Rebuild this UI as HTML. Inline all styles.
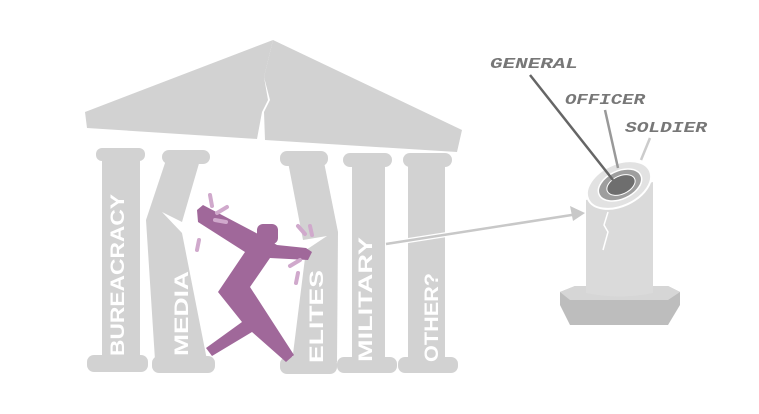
<!DOCTYPE html>
<html><head><meta charset="utf-8"><style>
html,body{margin:0;padding:0;background:#fff;width:759px;height:414px;overflow:hidden}
svg{display:block}
.t{font-family:"Liberation Sans",sans-serif;font-weight:bold;fill:#fff}
.l{font-family:"Liberation Mono",monospace;font-weight:bold;fill:#777;font-size:15px;font-style:italic}
</style></head><body>
<svg width="759" height="414" viewBox="0 0 759 414">
<g fill="#d2d2d2">
<polygon points="273,40 85,112 87,128 257,139 262,112 268,100 264,77"/>
<polygon points="273,40 264,77 270,100 264,112 265,140 457,152 462,130"/>
<rect x="96" y="148" width="49" height="13" rx="6"/>
<rect x="102" y="155" width="38" height="205"/>
<rect x="87" y="355" width="61" height="17" rx="7"/>
<rect x="162" y="150" width="48" height="14" rx="7"/>
<polygon points="166,160 200,160 182,222 162,212 182,233 207,360 155,360 146,220"/>
<rect x="152" y="356" width="63" height="17" rx="7"/>
<rect x="280" y="151" width="48" height="15" rx="7"/>
<polygon points="288,162 324,162 338,232 337,362 292,362 306,250 327,236 303,240"/>
<rect x="280" y="357" width="57" height="17" rx="7"/>
<rect x="343" y="153" width="49" height="14" rx="7"/>
<rect x="352" y="160" width="33" height="200"/>
<rect x="337" y="357" width="60" height="16" rx="7"/>
<rect x="403" y="153" width="49" height="14" rx="7"/>
<rect x="408" y="160" width="37" height="200"/>
<rect x="398" y="357" width="60" height="16" rx="7"/>
</g>
<text class="t" font-size="19" textLength="162" lengthAdjust="spacingAndGlyphs" transform="translate(124,356) rotate(-90)">BUREACRACY</text>
<text class="t" font-size="19" textLength="85" lengthAdjust="spacingAndGlyphs" transform="translate(188,356) rotate(-90)">MEDIA</text>
<text class="t" font-size="19" textLength="93" lengthAdjust="spacingAndGlyphs" transform="translate(323,363) rotate(-90)">ELITES</text>
<text class="t" font-size="19" textLength="125" lengthAdjust="spacingAndGlyphs" transform="translate(372,362) rotate(-90)">MILITARY</text>
<text class="t" font-size="19" textLength="89" lengthAdjust="spacingAndGlyphs" transform="translate(438,362) rotate(-90)">OTHER?</text>
<line x1="386" y1="244" x2="578" y2="214" stroke="#fff" stroke-width="5"/>
<line x1="386" y1="244" x2="578" y2="214" stroke="#c8c8c8" stroke-width="2.5"/>
<polygon points="585,213 570,206 573,221" fill="#c8c8c8"/>
<g fill="#a0689a">
<polygon points="197,210 203,205 258,234 277,245 306,248 312,252 308,260 270,258 250,287 294,355 286,362 252,332 212,356 206,348 242,322 218,292 245,252 198,222"/>
<rect x="257" y="224" width="21" height="20" rx="6"/>
</g>
<g stroke="#d0a9cc" stroke-width="4" stroke-linecap="round">
<line x1="210" y1="195" x2="212" y2="206"/><line x1="217" y1="213" x2="227" y2="207"/><line x1="215" y1="220" x2="226" y2="222"/><line x1="199" y1="240" x2="197" y2="250"/>
<line x1="298" y1="226" x2="305" y2="234"/><line x1="310" y1="226" x2="312" y2="235"/><line x1="290" y1="266" x2="300" y2="260"/><line x1="298" y1="273" x2="296" y2="283"/>
</g>
<polygon points="560,292 575,286 668,286 680,292 680,305 668,325 570,325 560,305" fill="#bdbdbd"/>
<polygon points="560,292 575,286 668,286 680,292 668,300 570,300" fill="#d6d6d6"/>
<path d="M586,200 L586,293 Q620,300 653,293 L653,182 Z" fill="#dadada"/>
<path d="M608,212 L604,225 L608,232 L603,250" stroke="#fff" stroke-width="1.5" fill="none"/>
<ellipse cx="619" cy="185" rx="34" ry="21" transform="rotate(-25 619 185)" fill="#e2e2e2" stroke="#fff" stroke-width="2"/>
<ellipse cx="620" cy="185" rx="23" ry="14" transform="rotate(-25 620 185)" fill="#9e9e9e" stroke="#fff" stroke-width="1.5"/>
<ellipse cx="621" cy="185" rx="15" ry="9" transform="rotate(-25 621 185)" fill="#6e6e6e" stroke="#fff" stroke-width="1"/>
<line x1="530" y1="75" x2="613" y2="180" stroke="#666" stroke-width="2.5"/>
<line x1="605" y1="110" x2="618" y2="168" stroke="#999" stroke-width="2.5"/>
<line x1="650" y1="138" x2="641" y2="160" stroke="#ccc" stroke-width="2.5"/>
<text class="l" x="490" y="68" textLength="88" lengthAdjust="spacingAndGlyphs">GENERAL</text>
<text class="l" x="565" y="104" textLength="80" lengthAdjust="spacingAndGlyphs">OFFICER</text>
<text class="l" x="625" y="132" textLength="82" lengthAdjust="spacingAndGlyphs">SOLDIER</text>
</svg>
</body></html>
